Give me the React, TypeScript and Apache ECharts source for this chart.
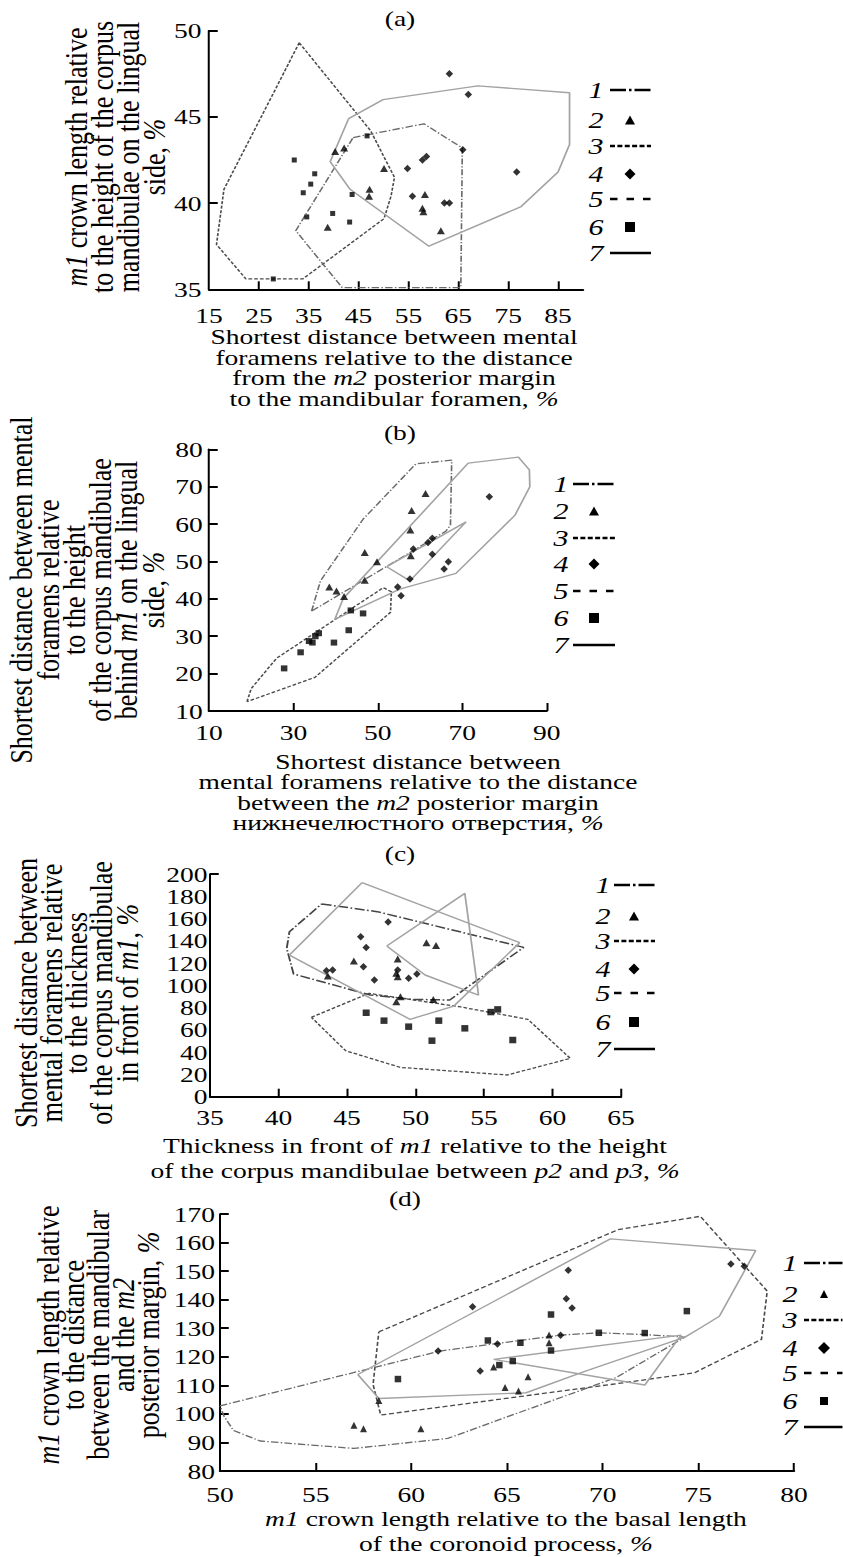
import React, { useEffect, useRef } from 'react';
import * as echarts from 'echarts';

const S = 1.25; // horizontal stretch of the original figure
const W = 843 / S;
const H = 1557;
const FONT = '"Liberation Serif", "Times New Roman", serif';

// ---------- Panel (a) ----------
const aXLabels = [15, 25, 35, 45, 55, 65, 75, 85];
const aXTicks = [25, 35, 45, 55, 65, 75, 85];
const aYLabels = [35, 40, 45, 50];
const aYTicks = [40, 45, 50];
const aPoly1 = [[43.9, 43.8], [58.1, 44.6], [65.8, 43.2], [65.5, 35.1], [41.7, 35.1], [32.4, 38.4]];
const aPoly3 = [[33.1, 49.3], [47.4, 44.2], [52.2, 41.5], [51.5, 40.4], [50.1, 39.1], [33.8, 35.6], [22.4, 35.6], [16.5, 37.6], [18.0, 40.8]];
const aPoly7 = [[43.0, 44.9], [49.9, 46.0], [68.9, 46.8], [87.3, 46.4], [87.3, 43.4], [85.0, 41.8], [77.6, 39.8], [59.1, 37.5], [43.3, 40.8], [39.3, 42.4]];
const aTri = [[40.3, 43.0], [42.1, 43.2], [50.1, 42.0], [47.2, 40.8], [47.1, 40.4], [38.8, 38.6], [58.3, 40.5], [57.8, 39.7], [58.0, 39.5], [61.5, 38.4]];
const aDia = [[63.2, 47.5], [67.0, 46.3], [65.9, 43.1], [57.8, 42.5], [58.6, 42.7], [54.8, 42.0], [55.8, 40.4], [62.2, 40.0], [63.2, 40.0], [76.7, 41.8]];
const aSq = [[32.1, 42.5], [36.2, 41.7], [35.4, 41.1], [33.9, 40.6], [43.7, 40.5], [34.6, 39.2], [39.8, 39.4], [43.2, 38.9], [27.9, 35.6], [46.7, 43.9]];

// ---------- Panel (b) ----------
const bXLabels = [10, 30, 50, 70, 90];
const bXTicks = [30, 50, 70, 90];
const bYLabels = [10, 20, 30, 40, 50, 60, 70, 80];
const bYTicks = [20, 30, 40, 50, 60, 70, 80];
const bPoly1 = [[34.3, 36.7], [36.4, 44.8], [46.5, 61.3], [59.0, 76.1], [67.5, 77.1], [67.2, 59.7], [66.1, 58.1]];
const bPoly3 = [[19.0, 12.5], [20.0, 16.0], [26.0, 24.1], [51.3, 43.0], [53.2, 41.9], [53.0, 36.4], [35.1, 19.0]];
const bPoly7 = [[41.8, 40.1], [71.4, 76.3], [83.3, 77.9], [85.9, 74.5], [86.0, 70.0], [82.5, 62.4], [68.5, 46.8], [55.2, 42.6], [39.8, 34.5]];
const bPoly7b = [[52.1, 48.6], [70.9, 60.6], [57.6, 44.8]];
const bTri = [[38.5, 43.2], [40.2, 42.1], [42.0, 40.6], [46.9, 52.4], [49.8, 49.9], [46.9, 45.0], [61.3, 68.2], [58.0, 63.6], [57.7, 58.4], [57.8, 51.5]];
const bDia = [[76.4, 67.3], [58.4, 53.3], [61.9, 55.1], [62.9, 56.2], [62.9, 51.9], [66.7, 49.9], [65.7, 48.0], [57.6, 45.3], [54.7, 43.2], [55.5, 40.8]];
const bSq = [[27.8, 21.4], [31.7, 25.7], [33.7, 28.7], [34.5, 28.3], [35.2, 30.0], [36.0, 30.8], [39.6, 28.3], [43.1, 31.6], [43.6, 36.9], [46.5, 36.1]];

// ---------- Panel (c) ----------
const cXLabels = [35, 40, 45, 50, 55, 60, 65];
const cXTicks = [40, 45, 50, 55, 60, 65];
const cYLabels = [0, 20, 40, 60, 80, 100, 120, 140, 160, 180, 200];
const cYTicks = [200];
const cPoly1 = [[43.15, 173.1], [47.2, 166.2], [57.9, 134.1], [54.0, 100.3], [52.5, 86.8], [49.8, 87.4], [46.7, 91.3], [41.1, 110.2], [40.6, 133.2], [40.8, 148.2]];
const cPoly3 = [[42.4, 71.3], [46.6, 92.8], [53.2, 80.8], [58.2, 69.5], [61.3, 34.4], [56.7, 19.5], [48.9, 26.3], [44.9, 41.3]];
const cPoly7 = [[46.1, 192.2], [57.6, 138.3], [52.8, 81.4], [49.6, 69.5], [40.8, 127.2]];
const cPoly7b = [[47.9, 135.3], [53.6, 182.6], [54.6, 91.3], [50.7, 109.3]];
const cTri = [[45.5, 121.9], [48.7, 123.7], [48.6, 110.8], [48.7, 107.8], [43.6, 108.4], [48.9, 89.8], [48.6, 85.3], [51.3, 87.4], [50.8, 138.3], [51.5, 135.9]];
const cDia = [[48.0, 156.9], [46.0, 143.7], [46.4, 134.1], [46.2, 116.8], [47.0, 104.8], [49.5, 106.3], [50.1, 110.2], [48.7, 113.8], [43.5, 113.2], [43.95, 113.8]];
const cSq = [[46.4, 75.4], [47.7, 68.3], [49.5, 62.9], [51.2, 50.3], [51.7, 68.3], [53.6, 61.4], [55.5, 76.0], [56.0, 78.4], [57.1, 50.9]];

// ---------- Panel (d) ----------
const dXLabels = [50, 55, 60, 65, 70, 75, 80];
const dXTicks = [55, 60, 65, 70, 75, 80];
const dYLabels = [80, 90, 100, 110, 120, 130, 140, 150, 160, 170];
const dYTicks = [90, 100, 110, 120, 130, 140, 150, 160, 170];
const dPoly1 = [[50.0, 102.8], [61.5, 122.0], [67.8, 127.6], [69.8, 128.4], [72.1, 127.8], [74.3, 126.9], [70.7, 112.7], [65.6, 100.4], [61.9, 91.4], [57.0, 87.9], [52.1, 90.5], [50.7, 94.2], [50.2, 99.3]];
const dPoly5 = [[58.3, 128.7], [70.8, 164.5], [75.1, 169.2], [78.6, 143.0], [78.3, 126.1], [74.8, 114.4], [71.1, 110.9], [58.4, 99.6], [58.0, 110.3]];
const dPoly7 = [[57.2, 113.8], [70.4, 161.3], [78.0, 157.2], [76.1, 134.2], [75.1, 130.1], [74.3, 126.9], [69.1, 115.0], [66.0, 107.4], [58.3, 105.4]];
const dPoly7b = [[64.3, 119.1], [74.1, 127.6], [72.2, 110.1]];
const dTri = [[67.2, 127.6], [67.2, 124.9], [64.3, 116.4], [66.1, 113.0], [64.9, 109.2], [65.6, 108.0], [58.3, 104.7], [57.0, 96.0], [57.5, 94.8], [60.5, 94.8]];
const dDia = [[76.7, 152.5], [77.4, 151.7], [68.2, 150.3], [68.1, 140.3], [68.4, 137.1], [63.2, 137.5], [61.4, 122.0], [64.5, 124.5], [67.8, 127.5], [63.6, 115.0]];
const dSq = [[67.3, 134.8], [74.4, 136.0], [64.0, 125.7], [65.7, 124.9], [69.8, 128.4], [72.2, 128.3], [67.3, 122.2], [65.3, 118.5], [64.6, 117.1], [59.3, 112.2]];

// ---------- helpers ----------
const close = (p: number[][]) => [...p, p[0]];

const DASHDOT = [6, 1.8, 1.2, 1.8];
const DASHDOT_DARK = [8, 2, 1.4, 2];
const FINEDASH = [3, 1.6];
const MEDDASH = [4, 2.2];

function poly(grid: number, data: number[][], kind: 'dd' | 'ddd' | 'fine' | 'med' | 'solid', name: string) {
  const style: any = { width: 1.3 };
  if (kind === 'dd') { style.color = '#6a6a6a'; style.type = DASHDOT; }
  if (kind === 'ddd') { style.color = '#444'; style.type = DASHDOT_DARK; style.width = 1.5; }
  if (kind === 'fine') { style.color = '#4a4a4a'; style.type = FINEDASH; }
  if (kind === 'med') { style.color = '#4a4a4a'; style.type = MEDDASH; }
  if (kind === 'solid') { style.color = '#a3a3a3'; style.type = 'solid'; style.width = 1.4; }
  return {
    type: 'line', name, xAxisIndex: grid, yAxisIndex: grid, data: close(data),
    symbol: 'none', showSymbol: false, silent: true, lineStyle: style, z: 2,
  };
}

function pts(grid: number, data: number[][], symbol: string, w: number, h: number, name: string) {
  return {
    type: 'scatter', name, xAxisIndex: grid, yAxisIndex: grid, data,
    symbol, symbolSize: [w / S, h], silent: true, itemStyle: { color: '#000' }, z: 3,
  };
}

function xAx(grid: number, min: number, max: number, labels: number[], ticks: number[], margin: number) {
  return {
    type: 'value', gridIndex: grid, min, max, position: 'bottom',
    axisLine: { show: true, onZero: false, lineStyle: { color: '#000', width: 2 } },
    axisTick: { show: true, inside: true, length: 8, customValues: ticks, lineStyle: { color: '#000', width: 1.6 } },
    axisLabel: { show: true, customValues: labels, margin, color: '#000', fontFamily: FONT, fontSize: 22 },
    splitLine: { show: false },
  };
}

function yAx(grid: number, min: number, max: number, labels: number[], ticks: number[], margin: number) {
  return {
    type: 'value', gridIndex: grid, min, max, position: 'left',
    axisLine: { show: true, onZero: false, lineStyle: { color: '#000', width: 1.6 } },
    axisTick: { show: true, inside: true, length: 7, customValues: ticks, lineStyle: { color: '#000', width: 2 } },
    axisLabel: { show: true, customValues: labels, margin, color: '#000', fontFamily: FONT, fontSize: 22 },
    splitLine: { show: false },
  };
}

function richStyle(text: string, size: number, lh: number) {
  return {
    text, fontFamily: FONT, fontSize: size, lineHeight: lh, fill: '#000',
    align: 'center', verticalAlign: 'middle',
    rich: { i: { fontStyle: 'italic', fontFamily: FONT, fontSize: size, lineHeight: lh, fill: '#000', align: 'center' } },
  };
}

function hText(xMain: number, y: number, text: string, size: number, lh: number) {
  return { type: 'text', x: xMain / S, y, style: richStyle(text, size, lh), silent: true };
}
function vText(xMain: number, y: number, text: string, size: number, lh: number) {
  return { type: 'text', x: xMain / S, y, rotation: Math.PI / 2, style: richStyle(text, size, lh), silent: true };
}

function legend(numX: number, l1: number, l2: number, symX: number, rows: number[], tri: number[], dia: number[], sq: number[]) {
  const els: any[] = [];
  const dashes: any[] = [[12.8, 2.4, 2, 2.4], null, [4, 1.9], null, [6, 7.2], null, []];
  rows.forEach((y, i) => {
    els.push({
      type: 'text', x: numX / S, y, silent: true,
      style: { text: String(i + 1), fontFamily: FONT, fontStyle: 'italic', fontSize: 24, fill: '#000', align: 'center', verticalAlign: 'middle' },
    });
    const cx = symX / S;
    if (i % 2 === 0) {
      els.push({
        type: 'line', silent: true, shape: { x1: l1 / S, y1: y, x2: l2 / S, y2: y },
        style: { stroke: '#000', lineWidth: 2.5, lineDash: dashes[i].length ? dashes[i] : null },
      });
    } else if (i === 1) {
      const w = tri[0] / S, h = tri[1];
      els.push({ type: 'polygon', silent: true, shape: { points: [[cx, y - h / 2], [cx + w / 2, y + h / 2], [cx - w / 2, y + h / 2]] }, style: { fill: '#000' } });
    } else if (i === 3) {
      const w = dia[0] / S, h = dia[1];
      els.push({ type: 'polygon', silent: true, shape: { points: [[cx, y - h / 2], [cx + w / 2, y], [cx, y + h / 2], [cx - w / 2, y]] }, style: { fill: '#000' } });
    } else {
      const w = sq[0] / S, h = sq[1];
      els.push({ type: 'rect', silent: true, shape: { x: cx - w / 2, y: y - h / 2, width: w, height: h }, style: { fill: '#000' } });
    }
  });
  return els;
}

const option: any = {
  animation: false,
  backgroundColor: '#fff',
  grid: [
    { left: 209 / S, top: 30.7, width: (583 - 209) / S, height: 258.6, outerBoundsMode: 'none' },
    { left: 209 / S, top: 449.3, width: (546.7 - 209) / S, height: 261.7, outerBoundsMode: 'none' },
    { left: 210 / S, top: 874, width: (621 - 210) / S, height: 222.7, outerBoundsMode: 'none' },
    { left: 220 / S, top: 1214, width: (794 - 220) / S, height: 257, outerBoundsMode: 'none' },
  ],
  xAxis: [
    xAx(0, 15, 90, aXLabels, aXTicks, 15),
    xAx(1, 10, 90, bXLabels, bXTicks, 10),
    xAx(2, 35, 65, cXLabels, cXTicks, 10),
    xAx(3, 50, 80, dXLabels, dXTicks, 12),
  ],
  yAxis: [
    yAx(0, 35, 50, aYLabels, aYTicks, 6),
    yAx(1, 10, 80, bYLabels, bYTicks, 5),
    yAx(2, 0, 200, cYLabels, cYTicks, 2),
    yAx(3, 80, 170, dYLabels, dYTicks, 4),
  ],
  series: [
    poly(0, aPoly3, 'fine', '5'), poly(0, aPoly1, 'dd', '1'), poly(0, aPoly7, 'solid', '7'),
    pts(0, aTri, 'triangle', 8, 7, '2'), pts(0, aDia, 'diamond', 7.5, 7.5, '4'), pts(0, aSq, 'rect', 5, 5, '6'),

    poly(1, bPoly3, 'fine', '5'), poly(1, bPoly1, 'dd', '1'), poly(1, bPoly7, 'solid', '7'), poly(1, bPoly7b, 'solid', '7'),
    pts(1, bTri, 'triangle', 8, 7, '2'), pts(1, bDia, 'diamond', 7.5, 7.5, '4'), pts(1, bSq, 'rect', 6.5, 6, '6'),

    poly(2, cPoly3, 'fine', '3'), poly(2, cPoly1, 'ddd', '1'), poly(2, cPoly7, 'solid', '7'), poly(2, cPoly7b, 'solid', '7'),
    pts(2, cTri, 'triangle', 8, 7, '2'), pts(2, cDia, 'diamond', 7.5, 7.5, '4'), pts(2, cSq, 'rect', 7, 6.5, '6'),

    poly(3, dPoly5, 'med', '5'), poly(3, dPoly1, 'dd', '1'), poly(3, dPoly7, 'solid', '7'), poly(3, dPoly7b, 'solid', '7'),
    pts(3, dTri, 'triangle', 7, 7, '2'), pts(3, dDia, 'diamond', 7.5, 7.5, '4'), pts(3, dSq, 'rect', 6.5, 6.5, '6'),
  ],
  graphic: {
    elements: [
      hText(400, 18, '(a)', 22, 22),
      hText(400, 432, '(b)', 22, 22),
      hText(400, 853, '(c)', 22, 22),
      hText(405, 1198, '(d)', 22, 22),

      hText(394, 367.5, 'Shortest distance between mental\nforamens relative to the distance\nfrom the {i|m2} posterior margin\nto the mandibular foramen, {i|%}', 22, 20.5),
      hText(418, 792, 'Shortest distance between\nmental foramens relative to the distance\nbetween the {i|m2} posterior margin\nнижнечелюстного отверстия, {i|%}', 22, 20.5),
      hText(415, 1157.5, 'Thickness in front of {i|m1} relative to the height\nof the corpus mandibulae between {i|p2} and {i|p3}, {i|%}', 22, 25),
      hText(506, 1530.5, '{i|m1} crown length relative to the basal length\nof the coronoid process, {i|%}', 22, 25),

      vText(115, 157, '{i|m1} crown length relative\nto the height of the corpus\nmandibulae on the lingual\nside, {i|%}', 26, 20.8),
      vText(87, 590, 'Shortest distance between mental\nforamens relative\nto the height\nof the corpus mandibulae\nbehind {i|m1} on the lingual\nside, {i|%}', 26, 21),
      vText(76, 993, 'Shortest distance between\nmental foramens relative\nto the thickness\nof the corpus mandibulae\nin front of {i|m1}, {i|%}', 26, 20.2),
      vText(98, 1335, '{i|m1} crown length relative\nto the distance\nbetween the mandibular\nand the {i|m2}\nposterior margin, {i|%}', 26, 20),

      ...legend(596, 610, 651, 630, [90, 120, 146, 174, 199, 227, 253], [10, 9], [11, 11], [10, 10]),
      ...legend(561, 573, 615, 594, [484, 511, 538, 564, 591, 618, 645], [10, 9], [11, 11], [10, 10]),
      ...legend(603, 614, 655, 634, [885, 916, 941, 969, 993, 1022, 1049], [10, 9], [11, 11], [10, 10]),
      ...legend(790, 804, 845, 824, [1263, 1294, 1320, 1348, 1373, 1401, 1427], [8, 8], [12, 12], [8, 8]),
    ],
  },
};

export default function App() {
  const ref = useRef<HTMLDivElement>(null);
  useEffect(() => {
    document.body.style.margin = '0';
    document.body.style.overflow = 'hidden';
    const chart = echarts.init(ref.current as HTMLDivElement, undefined, { renderer: 'svg', width: W, height: H });
    chart.setOption(option);
    return () => chart.dispose();
  }, []);
  return (
    <div style={{ position: 'absolute', left: 0, top: 0, width: 843, height: 1557, overflow: 'hidden', background: '#fff' }}>
      <div ref={ref} style={{ width: W, height: H, transform: `scaleX(${S})`, transformOrigin: '0 0' }} />
    </div>
  );
}
